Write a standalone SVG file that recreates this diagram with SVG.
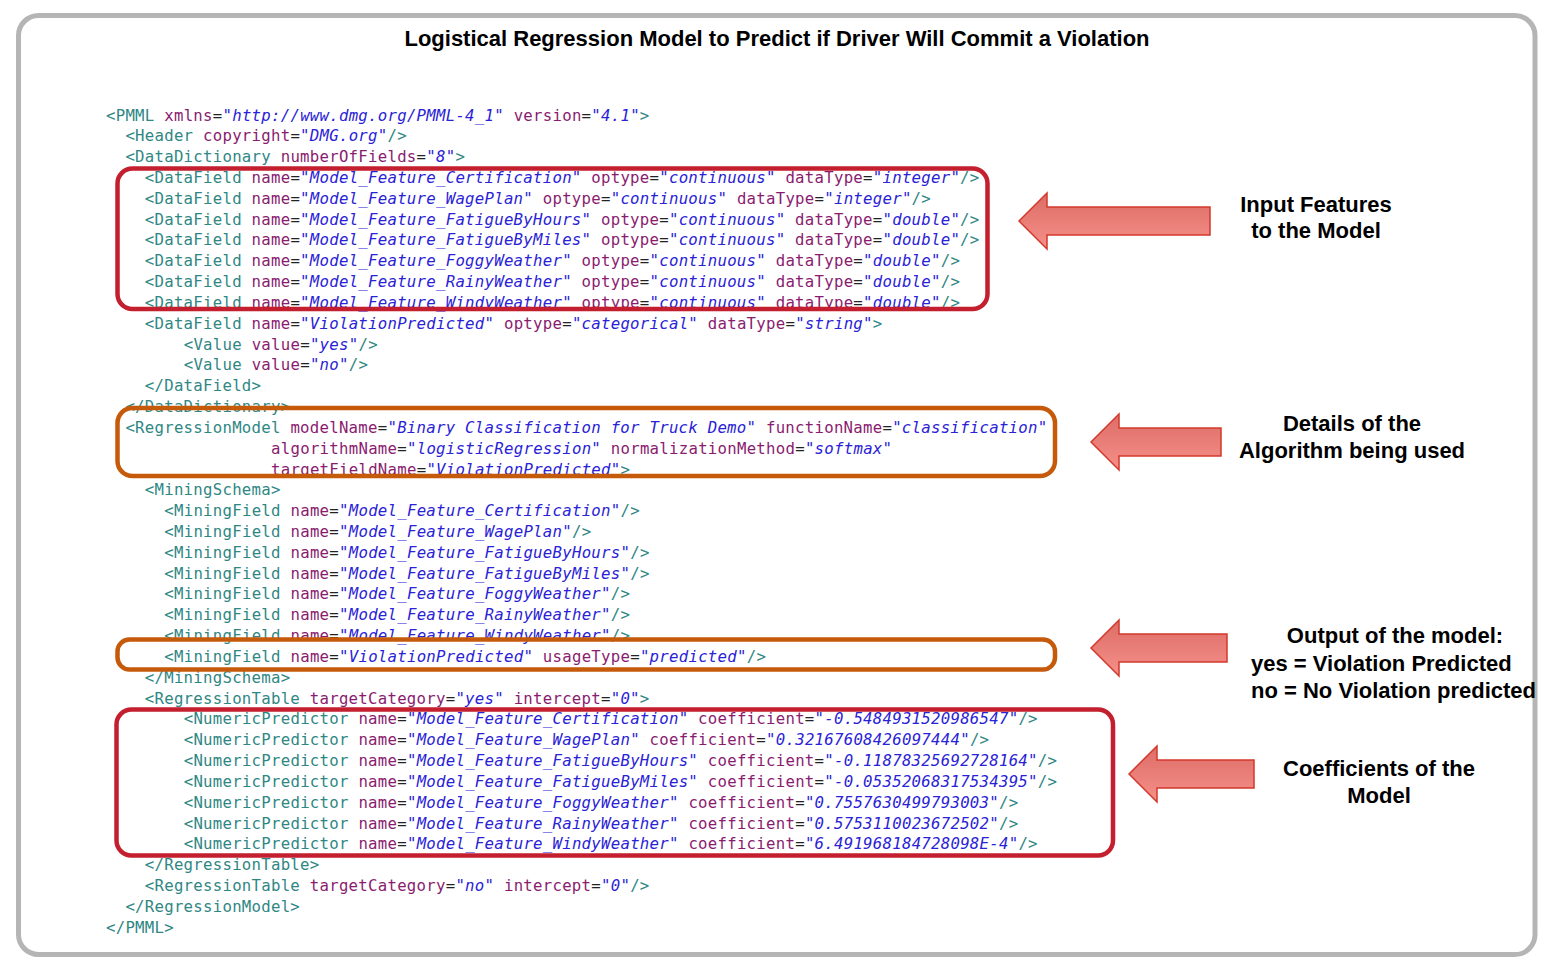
<svg xmlns="http://www.w3.org/2000/svg" width="1559" height="973" viewBox="0 0 1559 973">
<defs>
<style>
.code{font-family:"DejaVu Sans Mono","Liberation Mono",monospace;font-size:15.7px;letter-spacing:0.26px}
.t{fill:#2f8784}
.a{fill:#8a1c70}
.e{fill:#222}
.s{fill:#2a22d6;font-style:italic}
.lbl{font-family:"Liberation Sans",Arial,sans-serif;font-weight:bold;font-size:22px;fill:#000}
.red{fill:none;stroke:#c41f2e;stroke-width:4.5}
.org{fill:none;stroke:#c65a0b;stroke-width:4.5}
.arr{fill:url(#ag);stroke:#d2392c;stroke-width:1.5}
</style>
<linearGradient id="ag" x1="0" y1="0" x2="0" y2="1">
<stop offset="0" stop-color="#dd6c66"/>
<stop offset="1" stop-color="#f59089"/>
</linearGradient>
</defs>
<rect width="1559" height="973" fill="#fff"/>
<g id="frame"><rect x="18.5" y="15.5" width="1516.5" height="939" rx="20" fill="none" stroke="#b5b5b5" stroke-width="5"/></g>
<g id="title"><text x="777" y="46" text-anchor="middle" class="lbl">Logistical Regression Model to Predict if Driver Will Commit a Violation</text></g>
<g id="code" class="code">
<text x="106" y="120.5"><tspan class="t">&lt;PMML</tspan> <tspan class="a">xmlns</tspan><tspan class="e">=</tspan><tspan class="s">"http://www.dmg.org/PMML-4_1"</tspan> <tspan class="a">version</tspan><tspan class="e">=</tspan><tspan class="s">"4.1"</tspan><tspan class="t">&gt;</tspan></text>
<text x="125.4" y="141.3"><tspan class="t">&lt;Header</tspan> <tspan class="a">copyright</tspan><tspan class="e">=</tspan><tspan class="s">"DMG.org"</tspan><tspan class="t">/&gt;</tspan></text>
<text x="125.4" y="162.1"><tspan class="t">&lt;DataDictionary</tspan> <tspan class="a">numberOfFields</tspan><tspan class="e">=</tspan><tspan class="s">"8"</tspan><tspan class="t">&gt;</tspan></text>
<text x="144.8" y="183"><tspan class="t">&lt;DataField</tspan> <tspan class="a">name</tspan><tspan class="e">=</tspan><tspan class="s">"Model_Feature_Certification"</tspan> <tspan class="a">optype</tspan><tspan class="e">=</tspan><tspan class="s">"continuous"</tspan> <tspan class="a">dataType</tspan><tspan class="e">=</tspan><tspan class="s">"integer"</tspan><tspan class="t">/&gt;</tspan></text>
<text x="144.8" y="203.8"><tspan class="t">&lt;DataField</tspan> <tspan class="a">name</tspan><tspan class="e">=</tspan><tspan class="s">"Model_Feature_WagePlan"</tspan> <tspan class="a">optype</tspan><tspan class="e">=</tspan><tspan class="s">"continuous"</tspan> <tspan class="a">dataType</tspan><tspan class="e">=</tspan><tspan class="s">"integer"</tspan><tspan class="t">/&gt;</tspan></text>
<text x="144.8" y="224.6"><tspan class="t">&lt;DataField</tspan> <tspan class="a">name</tspan><tspan class="e">=</tspan><tspan class="s">"Model_Feature_FatigueByHours"</tspan> <tspan class="a">optype</tspan><tspan class="e">=</tspan><tspan class="s">"continuous"</tspan> <tspan class="a">dataType</tspan><tspan class="e">=</tspan><tspan class="s">"double"</tspan><tspan class="t">/&gt;</tspan></text>
<text x="144.8" y="245.4"><tspan class="t">&lt;DataField</tspan> <tspan class="a">name</tspan><tspan class="e">=</tspan><tspan class="s">"Model_Feature_FatigueByMiles"</tspan> <tspan class="a">optype</tspan><tspan class="e">=</tspan><tspan class="s">"continuous"</tspan> <tspan class="a">dataType</tspan><tspan class="e">=</tspan><tspan class="s">"double"</tspan><tspan class="t">/&gt;</tspan></text>
<text x="144.8" y="266.3"><tspan class="t">&lt;DataField</tspan> <tspan class="a">name</tspan><tspan class="e">=</tspan><tspan class="s">"Model_Feature_FoggyWeather"</tspan> <tspan class="a">optype</tspan><tspan class="e">=</tspan><tspan class="s">"continuous"</tspan> <tspan class="a">dataType</tspan><tspan class="e">=</tspan><tspan class="s">"double"</tspan><tspan class="t">/&gt;</tspan></text>
<text x="144.8" y="287.1"><tspan class="t">&lt;DataField</tspan> <tspan class="a">name</tspan><tspan class="e">=</tspan><tspan class="s">"Model_Feature_RainyWeather"</tspan> <tspan class="a">optype</tspan><tspan class="e">=</tspan><tspan class="s">"continuous"</tspan> <tspan class="a">dataType</tspan><tspan class="e">=</tspan><tspan class="s">"double"</tspan><tspan class="t">/&gt;</tspan></text>
<text x="144.8" y="307.9"><tspan class="t">&lt;DataField</tspan> <tspan class="a">name</tspan><tspan class="e">=</tspan><tspan class="s">"Model_Feature_WindyWeather"</tspan> <tspan class="a">optype</tspan><tspan class="e">=</tspan><tspan class="s">"continuous"</tspan> <tspan class="a">dataType</tspan><tspan class="e">=</tspan><tspan class="s">"double"</tspan><tspan class="t">/&gt;</tspan></text>
<text x="144.8" y="328.7"><tspan class="t">&lt;DataField</tspan> <tspan class="a">name</tspan><tspan class="e">=</tspan><tspan class="s">"ViolationPredicted"</tspan> <tspan class="a">optype</tspan><tspan class="e">=</tspan><tspan class="s">"categorical"</tspan> <tspan class="a">dataType</tspan><tspan class="e">=</tspan><tspan class="s">"string"</tspan><tspan class="t">&gt;</tspan></text>
<text x="183.7" y="349.6"><tspan class="t">&lt;Value</tspan> <tspan class="a">value</tspan><tspan class="e">=</tspan><tspan class="s">"yes"</tspan><tspan class="t">/&gt;</tspan></text>
<text x="183.7" y="370.4"><tspan class="t">&lt;Value</tspan> <tspan class="a">value</tspan><tspan class="e">=</tspan><tspan class="s">"no"</tspan><tspan class="t">/&gt;</tspan></text>
<text x="144.8" y="391.2" class="t">&lt;/DataField&gt;</text>
<text x="125.4" y="412" class="t">&lt;/DataDictionary&gt;</text>
<text x="125.4" y="432.8"><tspan class="t">&lt;RegressionModel</tspan> <tspan class="a">modelName</tspan><tspan class="e">=</tspan><tspan class="s">"Binary Classification for Truck Demo"</tspan> <tspan class="a">functionName</tspan><tspan class="e">=</tspan><tspan class="s">"classification"</tspan></text>
<text x="271.1" y="453.7"><tspan class="a">algorithmName</tspan><tspan class="e">=</tspan><tspan class="s">"logisticRegression"</tspan> <tspan class="a">normalizationMethod</tspan><tspan class="e">=</tspan><tspan class="s">"softmax"</tspan></text>
<text x="271.1" y="474.5"><tspan class="a">targetFieldName</tspan><tspan class="e">=</tspan><tspan class="s">"ViolationPredicted"</tspan><tspan class="t">&gt;</tspan></text>
<text x="144.8" y="495.3" class="t">&lt;MiningSchema&gt;</text>
<text x="164.3" y="516.1"><tspan class="t">&lt;MiningField</tspan> <tspan class="a">name</tspan><tspan class="e">=</tspan><tspan class="s">"Model_Feature_Certification"</tspan><tspan class="t">/&gt;</tspan></text>
<text x="164.3" y="537"><tspan class="t">&lt;MiningField</tspan> <tspan class="a">name</tspan><tspan class="e">=</tspan><tspan class="s">"Model_Feature_WagePlan"</tspan><tspan class="t">/&gt;</tspan></text>
<text x="164.3" y="557.8"><tspan class="t">&lt;MiningField</tspan> <tspan class="a">name</tspan><tspan class="e">=</tspan><tspan class="s">"Model_Feature_FatigueByHours"</tspan><tspan class="t">/&gt;</tspan></text>
<text x="164.3" y="578.6"><tspan class="t">&lt;MiningField</tspan> <tspan class="a">name</tspan><tspan class="e">=</tspan><tspan class="s">"Model_Feature_FatigueByMiles"</tspan><tspan class="t">/&gt;</tspan></text>
<text x="164.3" y="599.4"><tspan class="t">&lt;MiningField</tspan> <tspan class="a">name</tspan><tspan class="e">=</tspan><tspan class="s">"Model_Feature_FoggyWeather"</tspan><tspan class="t">/&gt;</tspan></text>
<text x="164.3" y="620.2"><tspan class="t">&lt;MiningField</tspan> <tspan class="a">name</tspan><tspan class="e">=</tspan><tspan class="s">"Model_Feature_RainyWeather"</tspan><tspan class="t">/&gt;</tspan></text>
<text x="164.3" y="641.1"><tspan class="t">&lt;MiningField</tspan> <tspan class="a">name</tspan><tspan class="e">=</tspan><tspan class="s">"Model_Feature_WindyWeather"</tspan><tspan class="t">/&gt;</tspan></text>
<text x="164.3" y="661.9"><tspan class="t">&lt;MiningField</tspan> <tspan class="a">name</tspan><tspan class="e">=</tspan><tspan class="s">"ViolationPredicted"</tspan> <tspan class="a">usageType</tspan><tspan class="e">=</tspan><tspan class="s">"predicted"</tspan><tspan class="t">/&gt;</tspan></text>
<text x="144.8" y="682.7" class="t">&lt;/MiningSchema&gt;</text>
<text x="144.8" y="703.5"><tspan class="t">&lt;RegressionTable</tspan> <tspan class="a">targetCategory</tspan><tspan class="e">=</tspan><tspan class="s">"yes"</tspan> <tspan class="a">intercept</tspan><tspan class="e">=</tspan><tspan class="s">"0"</tspan><tspan class="t">&gt;</tspan></text>
<text x="183.7" y="724.4"><tspan class="t">&lt;NumericPredictor</tspan> <tspan class="a">name</tspan><tspan class="e">=</tspan><tspan class="s">"Model_Feature_Certification"</tspan> <tspan class="a">coefficient</tspan><tspan class="e">=</tspan><tspan class="s">"-0.5484931520986547"</tspan><tspan class="t">/&gt;</tspan></text>
<text x="183.7" y="745.2"><tspan class="t">&lt;NumericPredictor</tspan> <tspan class="a">name</tspan><tspan class="e">=</tspan><tspan class="s">"Model_Feature_WagePlan"</tspan> <tspan class="a">coefficient</tspan><tspan class="e">=</tspan><tspan class="s">"0.32167608426097444"</tspan><tspan class="t">/&gt;</tspan></text>
<text x="183.7" y="766"><tspan class="t">&lt;NumericPredictor</tspan> <tspan class="a">name</tspan><tspan class="e">=</tspan><tspan class="s">"Model_Feature_FatigueByHours"</tspan> <tspan class="a">coefficient</tspan><tspan class="e">=</tspan><tspan class="s">"-0.11878325692728164"</tspan><tspan class="t">/&gt;</tspan></text>
<text x="183.7" y="786.8"><tspan class="t">&lt;NumericPredictor</tspan> <tspan class="a">name</tspan><tspan class="e">=</tspan><tspan class="s">"Model_Feature_FatigueByMiles"</tspan> <tspan class="a">coefficient</tspan><tspan class="e">=</tspan><tspan class="s">"-0.05352068317534395"</tspan><tspan class="t">/&gt;</tspan></text>
<text x="183.7" y="807.7"><tspan class="t">&lt;NumericPredictor</tspan> <tspan class="a">name</tspan><tspan class="e">=</tspan><tspan class="s">"Model_Feature_FoggyWeather"</tspan> <tspan class="a">coefficient</tspan><tspan class="e">=</tspan><tspan class="s">"0.7557630499793003"</tspan><tspan class="t">/&gt;</tspan></text>
<text x="183.7" y="828.5"><tspan class="t">&lt;NumericPredictor</tspan> <tspan class="a">name</tspan><tspan class="e">=</tspan><tspan class="s">"Model_Feature_RainyWeather"</tspan> <tspan class="a">coefficient</tspan><tspan class="e">=</tspan><tspan class="s">"0.5753110023672502"</tspan><tspan class="t">/&gt;</tspan></text>
<text x="183.7" y="849.3"><tspan class="t">&lt;NumericPredictor</tspan> <tspan class="a">name</tspan><tspan class="e">=</tspan><tspan class="s">"Model_Feature_WindyWeather"</tspan> <tspan class="a">coefficient</tspan><tspan class="e">=</tspan><tspan class="s">"6.491968184728098E-4"</tspan><tspan class="t">/&gt;</tspan></text>
<text x="144.8" y="870.1" class="t">&lt;/RegressionTable&gt;</text>
<text x="144.8" y="890.9"><tspan class="t">&lt;RegressionTable</tspan> <tspan class="a">targetCategory</tspan><tspan class="e">=</tspan><tspan class="s">"no"</tspan> <tspan class="a">intercept</tspan><tspan class="e">=</tspan><tspan class="s">"0"</tspan><tspan class="t">/&gt;</tspan></text>
<text x="125.4" y="911.8" class="t">&lt;/RegressionModel&gt;</text>
<text x="106" y="932.6" class="t">&lt;/PMML&gt;</text>
</g>
<g id="box-input"><rect x="117.5" y="168.5" width="870" height="140.5" rx="15" class="red"/></g>
<g id="box-algorithm"><rect x="117.5" y="408" width="937.5" height="68" rx="15" class="org"/></g>
<g id="box-output"><rect x="117.5" y="639.5" width="937.5" height="30" rx="12" class="org"/></g>
<g id="box-coefficients"><rect x="116.5" y="709.5" width="996.5" height="146" rx="15" class="red"/></g>
<g id="connectors">
<polygon class="arr" points="1019,221 1047,193 1047,207 1210,207 1210,235 1047,235 1047,249"/>
<polygon class="arr" points="1091,442 1119,414 1119,428 1221,428 1221,456 1119,456 1119,470"/>
<polygon class="arr" points="1091,648 1119,620 1119,634 1227,634 1227,662 1119,662 1119,676"/>
<polygon class="arr" points="1129,774 1157,746 1157,760 1254,760 1254,788 1157,788 1157,802"/>
</g>
<g id="label-input" class="lbl"><text x="1316" y="212" text-anchor="middle">Input Features</text><text x="1316" y="238" text-anchor="middle">to the Model</text></g>
<g id="label-algorithm" class="lbl"><text x="1352" y="431" text-anchor="middle">Details of the</text><text x="1352" y="458" text-anchor="middle">Algorithm being used</text></g>
<g id="label-output" class="lbl"><text x="1395" y="643" text-anchor="middle">Output of the model:</text><text x="1251" y="671">yes = Violation Predicted</text><text x="1251" y="698">no = No Violation predicted</text></g>
<g id="label-coefficients" class="lbl"><text x="1379" y="776" text-anchor="middle">Coefficients of the</text><text x="1379" y="803" text-anchor="middle">Model</text></g>
</svg>
